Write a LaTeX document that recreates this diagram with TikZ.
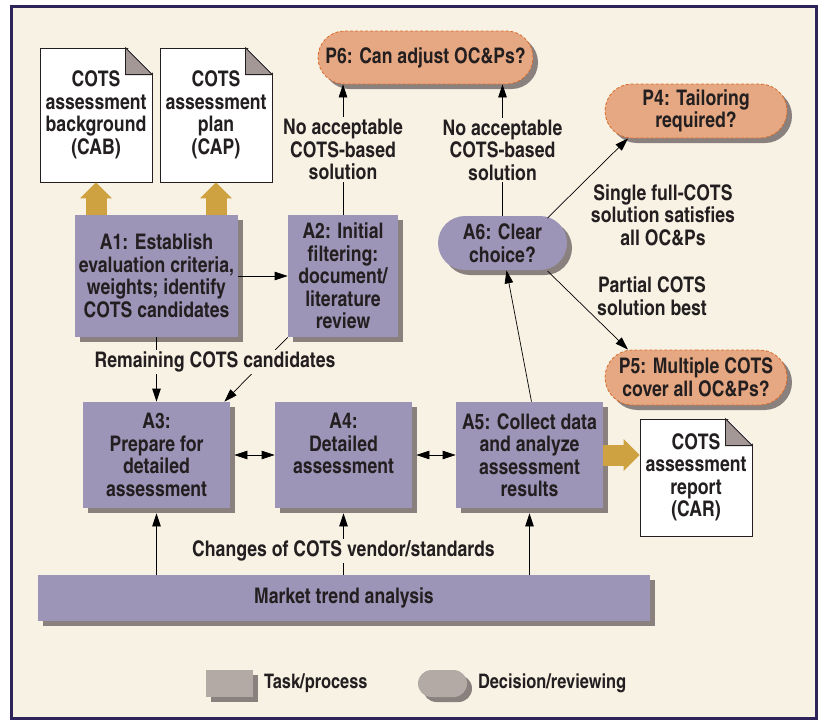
\documentclass[tikz,border=0pt]{standalone}
\usepackage{fontspec}
\setmainfont{texgyreheroscn-regular.otf}[BoldFont=texgyreheroscn-bold.otf]
\usepackage{tikz}
\usetikzlibrary{positioning, arrows.meta, calc, shapes.misc, shadows}

\definecolor{pagebg}{HTML}{F8F2E4}
\definecolor{framecol}{HTML}{2E2459}
\definecolor{taskcol}{HTML}{9D95B7}
\definecolor{shadowcol}{HTML}{8A817F}
\definecolor{probcol}{HTML}{E6A882}
\definecolor{dashcol}{HTML}{D86B2B}
\definecolor{goldcol}{HTML}{CEA240}
\definecolor{foldcol}{HTML}{A39896}
\definecolor{legendcol}{HTML}{B3AAA6}
\definecolor{inkcol}{HTML}{231F20}

\begin{document}
\begin{tikzpicture}[x=1pt, y=-1pt, >={Triangle[length=13pt,width=8.5pt]}, line width=0.7pt,
    font=\fontsize{21.5}{22.5}\selectfont\bfseries, text=inkcol,
    shadowed/.style={drop shadow={shadow xshift=5pt, shadow yshift=-5pt, fill=shadowcol, opacity=1}},
    task/.style={rectangle, fill=taskcol, shadowed, align=center, inner sep=0pt},
    decision/.style={rounded rectangle, fill=taskcol, shadowed, align=center, inner sep=0pt},
    problem/.style={rounded rectangle, fill=probcol, draw=dashcol, dash pattern=on 3pt off 2pt,
        line width=0.8pt, shadowed, align=center, inner sep=0pt},
    doc/.style={rectangle, fill=white, draw=inkcol, line width=0.8pt, align=center, inner sep=0pt,
        minimum width=112, minimum height=134},
    lbl/.style={fill=pagebg, align=center, inner sep=2pt},
    legendtext/.style={font=\fontsize{20}{22}\selectfont\bfseries},
    yield/.style={line width=21pt, goldcol, -{Triangle[length=16pt,width=31pt]}}]

    \useasboundingbox (0,0) rectangle (823,721);

    % Frame
    \draw[line width=3pt, framecol, fill=pagebg] (11.5,6.5) rectangle (816,718);

    % Documents
    \node[doc] (cab) at (96,115) {COTS\\assessment\\background\\(CAB)};
    \node[doc] (cap) at (216,115) {COTS\\assessment\\plan\\(CAP)};
    \node[doc, minimum height=117] (car) at (696,477.5) {COTS\\assessment\\report\\(CAR)};

    \foreach \d in {cab, cap, car} {
        \fill[pagebg] ($(\d.north east)+(-26.5,-1.5)$) -- ($(\d.north east)+(1.5,-1.5)$) -- ($(\d.north east)+(1.5,26.5)$) -- cycle;
        \filldraw[fill=foldcol, draw=inkcol, line width=0.8pt, line join=round] ($(\d.north east)+(-27,0)$) -- ($(\d.north east)+(-27,27)$) -- ($(\d.north east)+(0,27)$) -- cycle;
    }

    % Tasks
    \node[task, minimum width=163, minimum height=122] (a1) at (156.5,276) {A1: Establish\\evaluation criteria,\\weights; identify\\COTS candidates};
    \node[task, minimum width=110, minimum height=122] (a2) at (343,276) {A2: Initial\\filtering:\\document/\\literature\\review};
    \node[task, minimum width=147, minimum height=106] (a3) at (156.5,455) {A3:\\Prepare for\\detailed\\assessment};
    \node[task, minimum width=137, minimum height=106] (a4) at (343.5,455) {A4:\\Detailed\\assessment\\~};
    \node[task, minimum width=147, minimum height=106] (a5) at (529.5,455) {A5: Collect data\\and analyze\\assessment\\results};
    \node[task, minimum width=612, minimum height=46] (market) at (344,598) {Market trend analysis};

    % Decisions and problems
    \node[decision, minimum width=129, minimum height=54] (a6) at (502.5,243) {A6: Clear\\choice?};
    \node[problem, minimum width=215, minimum height=53] (p6) at (425.5,57.5) {P6: Can adjust OC\&Ps?};
    \node[problem, minimum width=182, minimum height=54] (p4) at (696,111) {P4: Tailoring\\required?};
    \node[problem, minimum width=182, minimum height=55] (p5) at (696,377.5) {P5: Multiple COTS\\cover all OC\&Ps?};

    % Products
    \draw[yield] (a1.north -| cab) -- (cab.south);
    \draw[yield] (a1.north -| cap) -- (cap.south);
    \draw[yield] (a5.east) -- (a5.east -| car.west);

    % Flow between tasks
    \draw[->] (a1.east) -- (a2.west);
    \draw[->] (a2.north) -- (a2.north |- p6.south) node[lbl, midway] (lblnoa2) {No acceptable\\COTS-based\\solution};
    \draw[->] (a6.north) -- (a6.north |- p6.south) node[lbl, midway] (lblnoa6) {No acceptable\\COTS-based\\solution};
    \draw[->] ($(a6.center)+(45,-25)$) -- ($(p4.south)+(-68,0)$);
    \draw[->] ($(a6.center)+(45,28)$) -- ($(p5.north)+(-68,0)$);
    \node[align=center] (lblsingle) at (663,215) {Single full-COTS\\solution satisfies\\all OC\&Ps};
    \node[align=center] (lblpartial) at (652,296) {Partial COTS\\solution best};
    \draw[->] ($(a5.north)+(2,0)$) -- ($(a6.south)+(4,0)$);

    \draw[->] (a1.south) -- (a3.north);
    \draw[->] (a2.south west) -- ($(a3.north east)+(-6,0)$);
    \node[lbl] (lblremain) at (215,362) {Remaining COTS candidates};

    \draw[<->, shorten <=4pt] (a3.east) -- (a4.west);
    \draw[<->, shorten <=4pt] (a4.east) -- (a5.west);

    % Market trend
    \draw[->, shorten >=5pt] (market.north -| a3) -- (a3.south);
    \draw[->, shorten >=5pt] (market.north -| a4) -- (a4.south);
    \draw[->, shorten >=5pt] (market.north -| a5) -- (a5.south);
    \node[lbl] (lblchanges) at (343.5,551) {Changes of COTS vendor/standards};

    % Legend
    \node[task, fill=legendcol, minimum width=47, minimum height=27] (legtask) at (229.5,683.5) {};
    \node[legendtext, right=7pt of legtask] (legtasktext) {Task/process};
    \node[decision, fill=legendcol, minimum width=49, minimum height=27] (legdec) at (442.5,683.5) {};
    \node[legendtext, right=7pt of legdec] (legdectext) {Decision/reviewing};
\end{tikzpicture}
\end{document}
